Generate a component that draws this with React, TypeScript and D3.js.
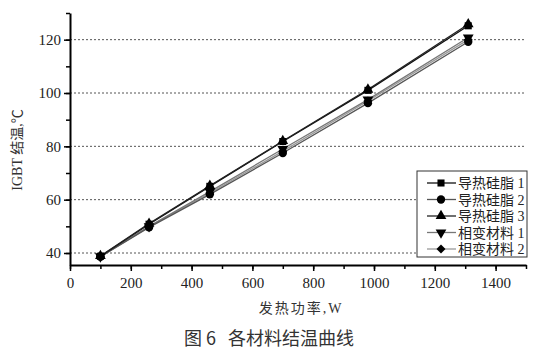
import { useEffect, useRef } from 'react';
import * as d3 from 'd3';

// power values (W)
const powers = [100, 260, 460, 700, 980, 1310];

const seriesNames = ['导热硅脂 1', '导热硅脂 2', '导热硅脂 3', '相变材料 1', '相变材料 2'];
const grease1 = [38.8, 50.8, 65.0, 81.8, 101.0, 125.2];
const grease2 = [38.6, 49.6, 62.0, 77.5, 96.2, 119.2];
const grease3 = [38.9, 51.0, 65.2, 82.0, 101.3, 125.8];
const phase1 = [38.7, 50.0, 63.0, 79.0, 97.5, 120.8];
const phase2 = [38.6, 49.8, 62.5, 78.2, 97.0, 120.0];

const xTicks = [0, 200, 400, 600, 800, 1000, 1200, 1400];
const yTicks = [40, 60, 80, 100, 120];

const serif = '"Liberation Serif", "Noto Sans CJK SC", serif';

export default function App() {
    const svgRef = useRef<SVGSVGElement>(null);
    const width = 541;
    const height = 353;

    useEffect(() => {
        if (!svgRef.current) return;
        d3.select(svgRef.current).selectAll('*').remove();

        const svg = d3.select(svgRef.current).attr('width', width).attr('height', height);

        const x = d3.scaleLinear().domain([0, 1500]).range([70, 526]);
        const y = d3.scaleLinear().domain([35.5, 130]).range([265, 13]);

        const allSeries = [grease1, grease2, grease3, phase1, phase2];
        const colors = ['#111', '#555', '#222', '#777', '#999'];
        const symbols = [d3.symbolSquare, d3.symbolCircle, d3.symbolTriangle, d3.symbolTriangle, d3.symbolSquare];
        const rotations = [0, 0, 0, 180, 45];
        const sizes = [50, 55, 50, 50, 40];

        // dotted grid
        svg
            .append('g')
            .selectAll('line')
            .data(yTicks)
            .join('line')
            .attr('x1', x(0))
            .attr('x2', x(1500))
            .attr('y1', (d) => y(d))
            .attr('y2', (d) => y(d))
            .attr('stroke', '#555')
            .attr('stroke-width', 1)
            .attr('stroke-dasharray', '2,2');

        // lines
        const line = d3
            .line<number>()
            .x((d, i) => x(powers[i]))
            .y((d) => y(d));

        const drawOrder = [4, 3, 1, 0, 2];
        drawOrder.forEach((k) => {
            svg
                .append('path')
                .datum(allSeries[k])
                .attr('d', line)
                .attr('fill', 'none')
                .attr('stroke', colors[k])
                .attr('stroke-width', 1.3);
        });

        drawOrder.forEach((k) => {
            svg
                .append('g')
                .selectAll('path')
                .data(allSeries[k])
                .join('path')
                .attr('d', d3.symbol().type(symbols[k]).size(sizes[k])())
                .attr('transform', (d, i) => `translate(${x(powers[i])},${y(d)}) rotate(${rotations[k]})`)
                .attr('fill', '#000');
        });

        // axes
        const xAxis = svg.append('g').attr('transform', `translate(0,${y.range()[0]})`);
        xAxis
            .call(d3.axisBottom(x).tickValues(d3.range(0, 1501, 100)).tickSize(4).tickFormat(() => ''))
            .call((g) => g.select('.domain').remove());
        xAxis
            .append('g')
            .call(d3.axisBottom(x).tickValues(xTicks).tickSize(6).tickSizeOuter(0).tickPadding(6).tickFormat(d3.format('d')))
            .call((g) => g.select('.domain').attr('stroke-width', 2))
            .selectAll('text')
            .attr('font-family', serif)
            .attr('font-size', 15)
            .attr('fill', '#222');
        xAxis.selectAll('line').attr('stroke-width', 1.5);

        const yAxis = svg.append('g').attr('transform', `translate(${x(0)},0)`);
        yAxis
            .call(d3.axisLeft(y).tickValues(d3.range(40, 131, 10)).tickSize(4).tickFormat(() => ''))
            .call((g) => g.select('.domain').remove());
        yAxis
            .append('g')
            .call(d3.axisLeft(y).tickValues(yTicks).tickSize(6).tickSizeOuter(0).tickPadding(3))
            .call((g) => g.select('.domain').attr('stroke-width', 2))
            .selectAll('text')
            .attr('font-family', serif)
            .attr('font-size', 15)
            .attr('fill', '#222');
        yAxis.selectAll('line').attr('stroke-width', 1.5);

        // axis titles
        svg
            .append('text')
            .attr('transform', `translate(22,150) rotate(-90)`)
            .attr('text-anchor', 'middle')
            .attr('font-family', serif)
            .attr('font-size', 14)
            .attr('fill', '#333')
            .text('IGBT 结温,℃');

        svg
            .append('text')
            .attr('x', 301)
            .attr('y', 313)
            .attr('text-anchor', 'middle')
            .attr('font-family', serif)
            .attr('font-size', 14)
            .attr('letter-spacing', 2)
            .attr('fill', '#333')
            .text('发热功率,W');

        svg
            .append('text')
            .attr('x', 269)
            .attr('y', 345)
            .attr('text-anchor', 'middle')
            .attr('font-family', '"Noto Sans CJK SC", sans-serif')
            .attr('font-size', 18)
            .attr('fill', '#333')
            .style('white-space', 'pre')
            .text('图 6   各材料结温曲线');

        // legend
        const legend = svg.append('g').attr('transform', 'translate(417,171)');
        legend
            .append('rect')
            .attr('width', 110)
            .attr('height', 86)
            .attr('fill', '#fff')
            .attr('stroke', '#333')
            .attr('stroke-width', 1);
        seriesNames.forEach((name, k) => {
            const ly = 12 + k * 16.5;
            legend
                .append('line')
                .attr('x1', 10)
                .attr('x2', 39)
                .attr('y1', ly)
                .attr('y2', ly)
                .attr('stroke', colors[k])
                .attr('stroke-width', 1.3);
            legend
                .append('path')
                .attr('d', d3.symbol().type(symbols[k]).size(sizes[k])())
                .attr('transform', `translate(24,${ly}) rotate(${rotations[k]})`)
                .attr('fill', '#000');
            legend
                .append('text')
                .attr('x', 41)
                .attr('y', ly + 5)
                .attr('font-family', serif)
                .attr('font-size', 14)
                .attr('fill', '#222')
                .text(name);
        });
    }, []);

    return (
        <div style={{ position: 'absolute', left: 0, top: 0, background: '#fff' }}>
            <svg ref={svgRef}></svg>
        </div>
    );
}
